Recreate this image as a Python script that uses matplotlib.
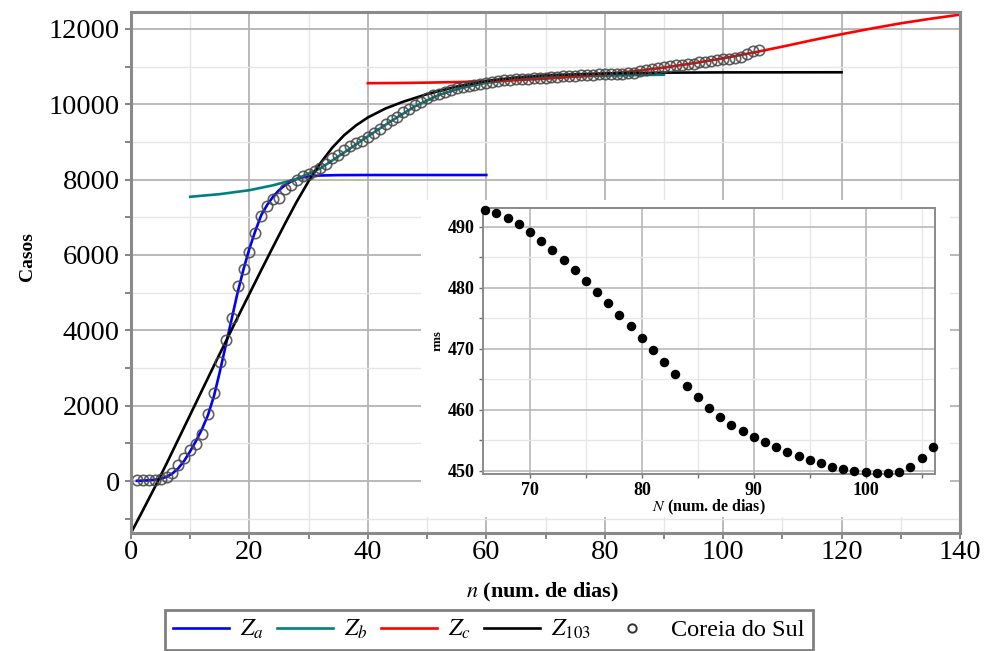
import matplotlib
matplotlib.use('Agg')
import matplotlib.pyplot as plt
from matplotlib.lines import Line2D
from matplotlib.patches import Rectangle
from matplotlib.ticker import MultipleLocator

plt.rcParams['font.family'] = ['Liberation Serif', 'DejaVu Serif']
plt.rcParams['mathtext.fontset'] = 'stix'

# Coreia do Sul: casos acumulados, dia 1 = 15/02/2020
dias = list(range(1, 107))
casos = [28, 29, 30, 31, 51, 104, 204, 433, 602, 833,
         977, 1261, 1766, 2337, 3150, 3736, 4335, 5186, 5621, 6088,
         6593, 7041, 7313, 7478, 7513, 7755, 7869, 7979, 8086, 8162,
         8236, 8320, 8413, 8565, 8652, 8799, 8897, 8961, 9037, 9137,
         9241, 9332, 9478, 9583, 9661, 9786, 9887, 9976, 10062, 10156,
         10237, 10284, 10331, 10384, 10423, 10450, 10480, 10512, 10537, 10564,
         10591, 10613, 10635, 10653, 10661, 10674, 10683, 10694, 10702, 10708,
         10718, 10728, 10738, 10752, 10761, 10765, 10774, 10780, 10793, 10801,
         10804, 10806, 10810, 10822, 10840, 10874, 10909, 10936, 10962, 10991,
         11018, 11037, 11050, 11065, 11078, 11110, 11122, 11142, 11165, 11190,
         11206, 11225, 11265, 11344, 11402, 11441]

# curvas ajustadas
za_n = [1, 2, 3, 4, 5, 6, 7, 8, 9, 10, 11, 12, 13, 14, 15, 16, 17, 18, 19, 20,
        21, 22, 23, 24, 25, 26, 27, 28, 29, 30, 32, 35, 40, 50, 60]
za = [5, 10, 20, 35, 60, 110, 200, 340, 540, 790, 1070, 1380, 1750, 2250, 2900,
      3600, 4300, 5000, 5620, 6170, 6640, 7060, 7330, 7550, 7720, 7850, 7950,
      8020, 8060, 8090, 8110, 8120, 8123, 8123, 8123]

zb_n = [10, 15, 20, 24, 28, 32, 36, 40, 44, 48, 52, 56, 60, 65, 70, 75, 80, 85, 90]
zb = [7545, 7615, 7720, 7850, 8020, 8300, 8720, 9150, 9560, 9950, 10250, 10440,
      10570, 10660, 10710, 10740, 10760, 10775, 10785]

zc_n = [40, 45, 50, 55, 60, 65, 70, 75, 80, 85, 90, 95, 100, 105, 110, 115, 120,
        125, 130, 135, 140]
zc = [10560, 10565, 10575, 10590, 10610, 10640, 10680, 10735, 10800, 10880, 10975,
      11090, 11220, 11370, 11530, 11700, 11860, 12010, 12150, 12270, 12380]

z103_n = [0, 2, 4, 6, 8, 10, 12, 14, 16, 18, 20, 22, 24, 26, 28, 30, 32, 34, 36,
          38, 40, 43, 46, 50, 55, 60, 65, 70, 80, 90, 100, 120]
z103 = [-1380, -780, -170, 460, 1110, 1760, 2410, 3060, 3700, 4340, 4970, 5600,
        6220, 6830, 7420, 7960, 8440, 8850, 9180, 9440, 9650, 9890, 10070, 10270,
        10470, 10620, 10710, 10770, 10820, 10840, 10847, 10850]

# rms em função do número de dias N
rms_N = list(range(66, 107))
rms = [492.74, 492.30, 491.48, 490.44, 489.18, 487.75, 486.16, 484.52, 482.88,
       481.18, 479.32, 477.45, 475.53, 473.67, 471.81, 469.84, 467.86, 465.89,
       463.92, 462.05, 460.36, 458.88, 457.56, 456.52, 455.48, 454.66, 453.89,
       453.12, 452.41, 451.75, 451.21, 450.66, 450.33, 450.00, 449.84, 449.67,
       449.56, 449.84, 450.66, 452.14, 453.84]

W, H = 984, 651
fig = plt.figure(figsize=(W / 100, H / 100), dpi=100)
ax = fig.add_axes([131 / W, 1 - 533 / H, (960 - 131) / W, (533 - 12) / H])
ax.set_zorder(0)

lw = 1.9
ax.plot(za_n, za, color='#0000ff', lw=lw)
ax.plot(zb_n, zb, color='#008080', lw=lw)
ax.plot(zc_n, zc, color='#ff0000', lw=lw)
ax.plot(z103_n, z103, color='black', lw=lw)
ax.plot(dias, casos, 'o', mfc='none', mec='#454545', ms=7.5, mew=1.2, alpha=0.85)

ax.set_xlim(0, 140)
ax.set_ylim(-1380, 12450)
ax.xaxis.set_major_locator(MultipleLocator(20))
ax.xaxis.set_minor_locator(MultipleLocator(10))
ax.yaxis.set_major_locator(MultipleLocator(2000))
ax.yaxis.set_minor_locator(MultipleLocator(1000))
ax.grid(which='major', color='#b4b4b4', lw=1.3)
ax.grid(which='minor', color='#e6e6e6', lw=1.0)
ax.set_axisbelow(True)
for s in ax.spines.values():
    s.set_color('#8a8a8a')
    s.set_linewidth(2.2)
ax.tick_params(which='both', direction='out', length=4, width=1.2, color='#707070')
ax.tick_params(axis='y', labelsize=20.5, pad=4)
ax.tick_params(axis='x', labelsize=20.5, pad=1)

ax.set_xlabel('$n$ (num. de dias)', fontsize=16, fontweight='bold')
ax.xaxis.set_label_coords(0.497, -0.092)
ax.set_ylabel('Casos', fontsize=14, fontweight='bold')
ax.yaxis.set_label_coords(-0.115, 0.53)

# fundo branco do gráfico interno
fig.add_artist(Rectangle((421 / W, 1 - 517 / H), (950 - 421) / W, (517 - 200) / H,
                         transform=fig.transFigure, facecolor='white',
                         edgecolor='none', zorder=1))

axi = fig.add_axes([483 / W, 1 - 474 / H, (935 - 483) / W, (474 - 208) / H])
axi.set_zorder(2)
axi.scatter(rms_N, rms, s=34, color='black', zorder=3, clip_on=False)
axi.set_xlim(65.8, 106.2)
axi.set_ylim(449.45, 493.1)
axi.xaxis.set_major_locator(MultipleLocator(10))
axi.xaxis.set_minor_locator(MultipleLocator(5))
axi.yaxis.set_major_locator(MultipleLocator(10))
axi.yaxis.set_minor_locator(MultipleLocator(5))
axi.grid(which='major', color='#b4b4b4', lw=1.1)
axi.grid(which='minor', color='#e6e6e6', lw=0.9)
axi.set_axisbelow(True)
for s in axi.spines.values():
    s.set_color('#8a8a8a')
    s.set_linewidth(1.4)
axi.tick_params(which='both', direction='out', length=3, width=1, color='#707070')
axi.tick_params(labelsize=13, pad=3)
for lab in axi.get_xticklabels() + axi.get_yticklabels():
    lab.set_fontweight('bold')
axi.set_xlabel('$N$ (num. de dias)', fontsize=11.5, fontweight='bold')
axi.xaxis.set_label_coords(0.499, -0.088)
axi.set_ylabel('rms', fontsize=9, fontweight='bold')
axi.yaxis.set_label_coords(-0.088, 0.5)

handles = [Line2D([], [], color='#0000ff', lw=lw),
           Line2D([], [], color='#008080', lw=lw),
           Line2D([], [], color='#ff0000', lw=lw),
           Line2D([], [], color='black', lw=lw),
           Line2D([], [], marker='o', ls='none', mfc='none', mec='#333333',
                  ms=6, mew=1.4)]
labels = ['$Z_a$', '$Z_b$', '$Z_c$', '$Z_{103}$', 'Coreia do Sul']
leg = fig.legend(handles, labels, loc='lower center',
                 bbox_to_anchor=(489 / W, 1 / H), ncol=5, fontsize=17.5,
                 frameon=True, fancybox=False, edgecolor='#808080',
                 framealpha=1, handlelength=2.3, handletextpad=0.45,
                 columnspacing=0.55, borderpad=0.35, borderaxespad=0)
leg.get_frame().set_linewidth(2)

fig.savefig('out.png', dpi=100)
